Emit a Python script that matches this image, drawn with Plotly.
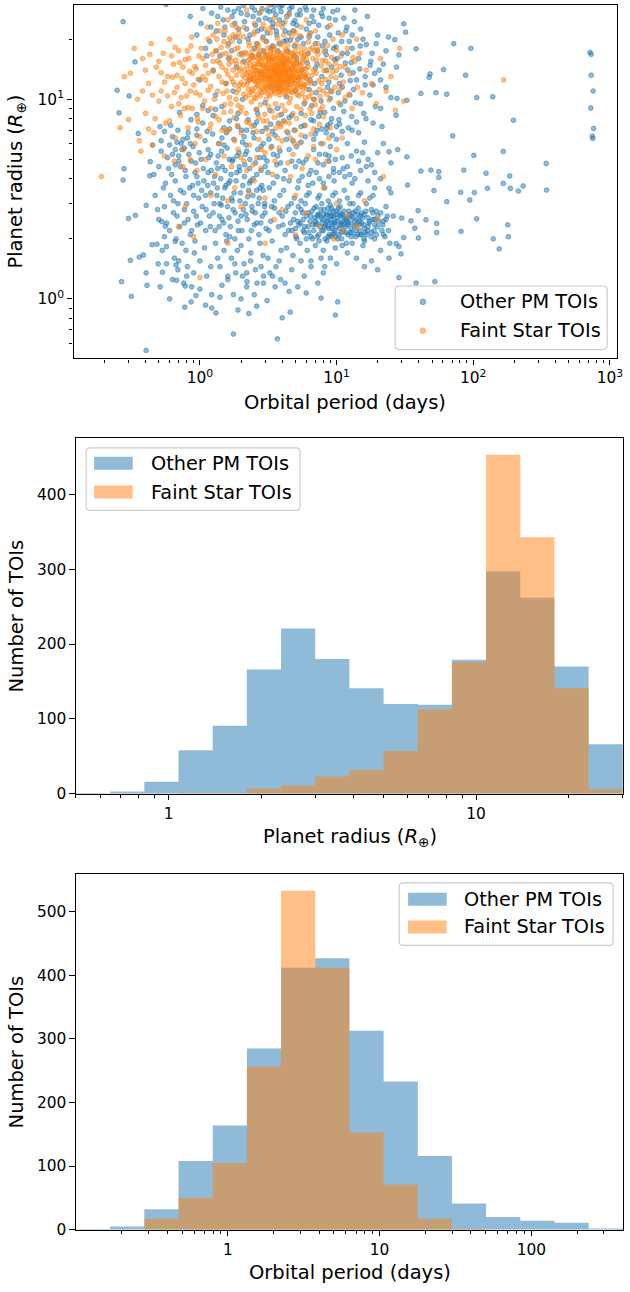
import plotly.graph_objects as go

W, H = 630, 1292

# ---------------- data ----------------
# (orbital period [days], planet radius [R_earth])
other_pm_pts = [
    # sparse outliers
    (0.274, 24.5), (0.565, 29.9), (0.248, 11.1), (0.256, 8.55), (0.303, 10.4), (0.335, 15.4),
    (0.274, 3.94), (0.278, 4.49), (0.30, 2.53), (0.337, 2.62), (0.267, 1.22), (0.315, 1.03),
    (0.31, 1.56), (0.404, 0.552), (0.405, 2.94), (0.43, 4.14), (0.433, 4.87), (0.354, 6.74),
    (0.36, 1.62), (0.386, 1.66), (0.404, 1.35), (0.41, 1.17), (0.447, 1.87), (0.485, 1.88),
    (0.495, 1.5), (0.532, 1.36), (0.512, 1.15), (0.525, 2.44), (0.558, 2.31), (0.569, 1.83),
    (0.66, 1.94), (0.668, 1.48), (0.675, 1.24), (0.78, 1.16), (0.862, 0.966), (0.775, 0.909),
    (0.935, 1.04), (1.22, 0.90), (1.31, 0.85), (1.76, 0.667), (2.28, 0.845), (3.69, 0.631),
    (4.0, 0.804), (4.58, 0.858), (10.2, 0.966), (9.8, 0.83), (7.7, 1.01), (6.0, 1.07),
    (4.5, 1.09), (2.92, 1.2), (2.21, 1.22), (1.45, 1.17), (38.2, 1.2), (52.4, 1.22),
    (28.6, 1.28), (29.6, 1.68), (27.3, 1.89), (39.7, 2.02), (31.0, 2.03), (37.4, 2.26),
    (45.1, 2.49), (54.0, 2.15), (54.0, 2.39), (39.5, 2.77), (64.0, 3.07), (51.6, 3.49),
    (56.0, 4.06), (56.0, 4.34), (49.0, 4.42), (41.4, 4.37), (81.5, 2.18), (81.0, 3.42),
    (85.3, 4.42), (94.4, 3.13), (101, 5.23), (102, 3.41), (106, 2.52), (124, 4.26),
    (127, 3.58), (140, 2.0), (155, 1.78), (166, 3.79), (166, 5.48), (179, 2.35),
    (181, 2.05), (185, 4.13), (187, 3.58), (214, 3.47), (232, 3.68), (342, 4.77),
    (344, 3.51), (197, 7.85), (139, 10.3), (106, 10.2), (88.0, 13.2), (96.0, 18.0),
    (72.0, 19.0), (60.6, 14.1), (70.8, 6.56), (64.0, 10.6), (53.4, 10.8), (47.6, 12.9),
    (48.3, 13.4), (41.4, 10.7), (38.2, 17.9), (32.0, 21.7), (31.0, 23.9), (26.7, 19.9),
    (28.6, 16.7), (27.7, 10.1), (32.7, 9.89), (27.3, 8.32), (716, 17.2), (730, 16.8),
    (730, 13.2), (755, 11.0), (725, 9.05), (760, 7.14), (745, 6.54), (750, 6.37),
    (35.0, 2.46), (30.0, 2.54), (24.2, 3.58), (24.2, 5.46), (32.7, 5.15), (33.1, 3.72),
    (24.2, 1.6), (28.6, 1.83),
    # short periods, small-to-mid radii
    (0.45, 5.9), (0.47, 3.3), (0.5, 4.6), (0.52, 6.2), (0.55, 2.9), (0.56, 3.8), (0.58, 5.1),
    (0.6, 2.2), (0.61, 7.4), (0.62, 4.2), (0.64, 3.1), (0.65, 1.6), (0.66, 5.6), (0.68, 2.6),
    (0.7, 4.9), (0.71, 8.6), (0.72, 3.5), (0.74, 1.9), (0.75, 6.3), (0.77, 2.4), (0.78, 4.4),
    (0.8, 3.0), (0.81, 1.45), (0.83, 5.3), (0.85, 2.1), (0.86, 7.9), (0.88, 3.7), (0.9, 2.75),
    (0.91, 1.7), (0.93, 4.8), (0.95, 6.6), (0.96, 2.35), (0.98, 3.2), (1.0, 1.55), (1.02, 5.0),
    (1.04, 2.9), (1.05, 9.3), (1.07, 3.9), (1.1, 2.2), (1.12, 1.3), (1.13, 6.9), (1.15, 4.3),
    (1.17, 2.6), (1.2, 3.4), (0.53, 1.75), (0.57, 1.5), (0.63, 1.25), (0.69, 1.4), (0.76, 1.2),
    (0.87, 1.15), (0.5, 2.5), (0.55, 2.05), (0.67, 2.0), (0.79, 1.75), (0.92, 1.95), (1.08, 1.8),
    (0.52, 5.5), (0.55, 6.9), (0.6, 5.9), (0.63, 6.5), (0.66, 4.7), (0.7, 5.2), (0.73, 6.0),
    (0.77, 5.7), (0.82, 6.8), (0.69, 7.0),
    (0.46, 4.2), (0.49, 2.8), (0.51, 7.3), (0.54, 3.6), (0.57, 2.4), (0.59, 4.5), (0.61, 3.3),
    (0.63, 5.3), (0.64, 2.7), (0.66, 3.9), (0.68, 6.1), (0.69, 3.0), (0.71, 2.3), (0.72, 4.6),
    (0.74, 5.6), (0.76, 3.4), (0.77, 2.8), (0.79, 4.1), (0.81, 6.4), (0.82, 2.5), (0.84, 3.6),
    (0.86, 4.9), (0.87, 2.2), (0.89, 5.8), (0.9, 3.3), (0.92, 4.3), (0.94, 2.6), (0.95, 7.1),
    (0.97, 3.8), (0.99, 5.4), (1.01, 2.4), (1.03, 3.5), (1.06, 4.5), (1.09, 6.2), (1.11, 2.8),
    (1.14, 3.7), (1.16, 5.1), (1.19, 2.3), (1.21, 4.4), (1.24, 6.7), (1.27, 3.0), (1.29, 2.2),
    (1.32, 4.8), (1.34, 3.6), (1.37, 6.0), (1.39, 2.6), (1.42, 4.0), (1.44, 5.5), (1.47, 3.2),
    (1.49, 2.4), (1.53, 4.4), (1.56, 6.8), (1.59, 2.9), (1.62, 3.8), (1.64, 5.0), (1.67, 2.3),
    (1.69, 4.2), (1.73, 3.1), (1.77, 6.3), (1.81, 2.7), (1.84, 3.9), (1.87, 5.2), (1.91, 2.2),
    (1.94, 4.6), (1.98, 3.4), (2.02, 7.0), (2.08, 2.8), (2.12, 4.1), (2.18, 5.9), (2.22, 2.5),
    (2.27, 3.5), (2.31, 4.5), (2.38, 2.2), (2.44, 3.3), (2.49, 6.4), (2.54, 2.7), (2.6, 4.2),
    (2.67, 3.0), (2.73, 5.1), (2.79, 2.4), (2.84, 3.7), (2.91, 6.0), (2.97, 2.9),
    # 1.2 - 4 days, small radii
    (1.22, 1.05), (1.25, 2.7), (1.28, 4.1), (1.3, 1.9), (1.33, 3.3), (1.36, 5.2), (1.38, 2.3),
    (1.4, 1.45), (1.43, 2.95), (1.46, 4.6), (1.5, 1.75), (1.52, 3.6), (1.55, 2.1), (1.58, 5.7),
    (1.6, 1.25), (1.63, 2.55), (1.66, 3.9), (1.7, 1.6), (1.72, 4.9), (1.75, 2.8), (1.78, 3.4),
    (1.8, 2.0), (1.83, 1.35), (1.86, 4.3), (1.9, 2.45), (1.93, 5.4), (1.96, 3.1), (2.0, 1.85),
    (2.03, 2.2), (2.06, 3.7), (2.1, 1.5), (2.13, 4.7), (2.17, 2.65), (2.2, 1.15), (2.24, 3.25),
    (2.28, 2.0), (2.32, 5.0), (2.36, 1.7), (2.4, 2.9), (2.45, 4.0), (2.5, 2.35), (2.55, 1.4),
    (2.6, 3.5), (2.65, 5.6), (2.7, 2.1), (2.75, 1.9), (2.8, 4.4), (2.86, 2.6), (2.92, 1.3),
    (2.98, 3.0), (3.05, 2.25), (3.1, 4.9), (3.15, 1.6), (3.22, 3.6), (3.3, 2.45), (3.38, 1.95),
    (3.45, 5.3), (3.52, 2.85), (3.6, 1.45), (3.68, 4.1), (3.76, 2.3), (3.85, 3.3), (3.93, 1.75),
    (1.26, 3.8), (1.45, 2.5), (1.65, 2.05), (1.88, 1.75), (2.15, 3.0), (2.42, 2.75), (2.72, 3.2),
    (3.0, 2.7), (3.35, 2.9), (1.35, 1.6), (1.57, 1.95), (1.76, 1.05), (2.05, 1.3), (2.35, 1.55),
    (2.62, 1.2), (2.9, 1.65), (3.25, 1.35), (3.55, 1.15), (3.9, 1.25),
    # sub-Neptune clump
    (4.0, 2.6), (4.1, 3.5), (4.2, 2.1), (4.3, 1.8), (4.4, 2.9), (4.5, 3.9), (4.6, 2.4), (4.7, 2.2),
    (4.8, 1.65), (4.9, 3.2), (5.0, 2.7), (5.1, 2.0), (5.2, 3.6), (5.3, 2.35), (5.4, 1.9), (5.5, 2.8),
    (5.6, 4.1), (5.7, 2.5), (5.8, 2.15), (5.9, 3.0), (6.0, 2.6), (6.1, 1.75), (6.2, 2.3), (6.3, 3.4),
    (6.4, 2.45), (6.5, 2.05), (6.6, 2.75), (6.7, 3.8), (6.8, 2.2), (6.9, 2.55), (7.0, 1.85),
    (7.1, 2.9), (7.2, 2.4), (7.3, 3.2), (7.4, 2.1), (7.5, 2.65), (7.6, 2.3), (7.7, 1.6), (7.8, 3.0),
    (7.9, 2.5), (8.0, 2.2), (8.1, 2.8), (8.2, 3.6), (8.3, 2.35), (8.4, 2.6), (8.5, 1.95), (8.6, 2.45),
    (8.7, 3.1), (8.8, 2.25), (8.9, 2.7), (9.0, 2.5), (9.1, 2.05), (9.2, 2.85), (9.3, 2.35), (9.4, 3.3),
    (9.5, 2.6), (9.6, 2.15), (9.7, 2.45), (9.8, 1.8), (9.9, 2.75), (10.0, 2.3), (10.2, 2.55),
    (10.4, 2.1), (10.6, 2.9), (10.8, 2.4), (11.0, 2.65), (11.2, 2.2), (11.4, 3.5), (11.6, 2.5),
    (11.8, 1.9), (12.0, 2.35), (12.3, 2.75), (12.6, 2.15), (12.9, 2.6), (13.2, 3.0), (13.5, 2.3),
    (13.8, 2.05), (14.1, 2.5), (14.4, 2.85), (14.8, 2.2), (15.2, 2.4), (15.6, 1.85), (16.0, 2.65),
    (16.5, 2.1), (17.0, 2.3), (17.5, 3.2), (18.0, 2.15), (18.5, 2.5), (19.0, 2.0), (19.5, 2.75),
    (20.0, 2.3), (21.0, 1.75), (22.0, 2.45), (23.0, 2.9), (24.0, 2.2), (25.0, 3.4), (26.0, 2.6),
    (11.5, 4.1), (13.0, 3.8), (15.0, 3.4), (17.0, 3.9), (19.0, 3.6), (21.0, 4.0), (9.5, 4.3),
    (7.5, 4.0), (12.0, 1.7), (14.0, 1.6), (16.0, 1.45), (18.0, 1.55), (10.0, 1.5), (8.0, 1.35),
    (6.5, 1.45), (5.5, 1.55), (20.0, 1.4), (22.0, 2.1), (24.5, 1.9), (15.0, 2.1), (16.2, 2.15),
    (9.3, 2.6), (10.5, 2.7), (11.1, 2.45), (8.6, 2.3), (12.2, 2.55), (7.3, 2.65),
    (5.2, 2.45), (5.7, 2.2), (6.2, 2.7), (6.7, 2.35), (7.2, 2.05), (7.7, 2.55), (8.2, 2.3),
    (8.7, 2.05), (9.2, 2.4), (9.7, 2.2), (10.2, 2.0), (10.7, 2.35), (11.2, 2.6), (11.7, 2.15),
    (12.2, 2.4), (12.7, 2.25), (13.2, 2.55), (13.7, 2.75), (14.2, 2.1), (14.7, 2.45), (15.2, 2.7),
    (16.0, 2.25), (17.0, 2.55), (18.0, 2.8), (19.0, 2.35), (20.0, 2.6), (21.5, 2.2), (23.0, 2.5),
    (9.0, 2.95), (10.5, 3.1), (12.0, 3.2), (8.0, 1.75), (11.0, 1.85), (13.0, 1.9), (16.0, 1.95),
    (5.0, 2.25), (6.0, 2.0), (7.0, 2.45), (7.8, 2.2), (8.5, 2.65), (9.4, 2.1), (10.1, 2.65),
    (10.9, 2.15), (11.9, 2.45), (12.8, 2.05), (13.9, 2.35), (14.9, 2.6), (15.9, 2.0), (17.3, 2.4),
    (18.8, 2.2),
    (4.05, 2.35), (4.25, 2.75), (4.45, 2.2), (4.65, 3.0), (4.85, 2.5), (5.05, 2.05), (5.25, 2.9),
    (5.45, 2.4), (5.65, 2.7), (5.85, 2.3), (6.05, 3.3), (6.25, 2.15), (6.45, 2.6), (6.65, 2.0),
    (6.85, 2.85), (7.05, 2.35), (7.25, 2.6), (7.45, 1.95), (7.65, 2.8), (7.85, 2.4), (8.05, 2.65),
    (8.25, 2.0), (8.45, 2.45), (8.65, 2.85), (8.85, 2.1), (9.05, 2.6), (9.25, 2.25), (9.45, 2.75),
    (9.65, 2.4), (9.85, 2.05), (10.1, 2.45), (10.3, 2.85), (10.5, 2.25), (10.7, 2.6), (10.9, 2.0),
    (11.1, 2.35), (11.35, 2.75), (11.6, 2.3), (11.85, 2.55), (12.1, 2.1), (12.4, 2.65), (12.7, 2.4),
    (13.0, 2.15), (13.3, 2.7), (13.6, 2.45), (13.9, 2.2), (14.3, 2.65), (14.7, 2.35), (15.1, 2.1),
    (15.5, 2.55), (15.9, 2.35), (16.4, 2.75), (16.9, 2.2), (17.4, 2.45), (17.9, 2.05), (18.4, 2.7),
    (19.0, 2.5), (19.6, 2.1), (20.3, 2.45), (21.0, 2.7), (21.8, 2.35), (22.6, 2.05), (23.5, 2.6),
    (5.5, 3.1), (7.5, 3.3), (9.8, 3.4), (12.5, 3.0), (14.5, 3.3), (16.5, 3.0), (18.5, 3.3),
    # small planets
    (0.6, 1.0), (0.8, 1.3), (1.0, 1.12), (1.2, 1.45), (1.4, 1.02), (1.6, 1.3), (1.8, 1.5),
    (2.0, 1.0), (2.2, 1.35), (2.5, 1.05), (2.8, 1.45), (3.1, 0.98), (3.4, 1.3), (3.8, 1.55),
    (4.2, 1.2), (4.7, 1.4), (5.2, 1.15), (5.8, 1.3), (6.5, 1.55), (7.3, 1.2), (8.2, 1.45),
    (9.0, 1.6), (1.1, 0.93), (1.9, 0.88), (2.6, 0.92), (0.7, 1.55), (0.9, 1.35),
    # giants
    (1.0, 12.5), (1.1, 18), (1.15, 8.8), (1.2, 23), (1.25, 14), (1.3, 10.5), (1.35, 26),
    (1.4, 16.5), (1.45, 9.2), (1.5, 21), (1.55, 12), (1.6, 28), (1.65, 7.8), (1.7, 17.5),
    (1.75, 11), (1.8, 24), (1.85, 14.5), (1.9, 8.5), (1.95, 19.5), (2.0, 27), (2.05, 10),
    (2.1, 15.5), (2.2, 22.5), (2.3, 12.5), (2.4, 29), (2.5, 18), (2.6, 8.9), (2.7, 25),
    (2.8, 13.5), (2.9, 20.5), (3.0, 9.6), (3.1, 28), (3.2, 16), (3.3, 11.5), (3.4, 23), (3.5, 14),
    (3.6, 26.5), (3.7, 9.0), (3.8, 19), (3.9, 12), (4.0, 29.5), (4.1, 15), (4.2, 22), (4.3, 10.3),
    (4.4, 17.5), (4.5, 27), (4.6, 13), (4.7, 8.3), (4.8, 24), (4.9, 16.5), (5.0, 11), (5.2, 20),
    (5.4, 28), (5.6, 14), (5.8, 9.5), (6.0, 22.5), (6.2, 17), (6.4, 12.5), (6.6, 26), (6.8, 10),
    (7.0, 19), (7.2, 15), (7.4, 23.5), (7.6, 8.6), (7.8, 13), (8.0, 28.5), (8.3, 17.5), (8.6, 11.5),
    (8.9, 21), (9.2, 14.5), (9.5, 9.0), (9.8, 25), (10.1, 16), (10.5, 12), (10.9, 19.5), (11.3, 8.7),
    (11.7, 22), (12.1, 14), (12.5, 10.5), (13.0, 18), (13.5, 24.5), (14.0, 12.5), (14.5, 16),
    (15.0, 9.5), (15.6, 20), (16.2, 13), (16.8, 26), (17.5, 10.5), (18.2, 17), (19.0, 13.5),
    (20.0, 21), (21.0, 9.0), (22.0, 15), (23.0, 11.5), (1.5, 7.2), (2.2, 7.0), (3.3, 7.5),
    (4.4, 6.8), (5.5, 7.3), (7.2, 7.0), (9.0, 7.6), (11.0, 6.9), (2.7, 16.8), (3.4, 18.5),
    (4.2, 13.8), (5.1, 15.8), (6.3, 20.5), (3.8, 11.3), (4.6, 19.8), (6.9, 12.0), (8.4, 14.0),
    (10.3, 10.8), (12.8, 15.3),
    (0.85, 26), (0.95, 21), (1.05, 28.5), (1.18, 19.5), (1.32, 22), (1.48, 25), (1.62, 19),
    (1.78, 27.5), (1.92, 22.5), (2.08, 29.5), (2.25, 20), (2.45, 26), (2.65, 22), (2.85, 28.5),
    (3.05, 19.5), (3.25, 25), (3.45, 27.8), (3.65, 21), (3.85, 29), (4.05, 24), (4.3, 19.8),
    (4.55, 28.5), (4.85, 22), (5.15, 26.5), (5.5, 20.5), (5.9, 29), (6.3, 24), (6.8, 28),
    (7.3, 20.5), (7.9, 26), (8.6, 23), (9.4, 27.5), (10.3, 21.5), (11.3, 25.5), (12.4, 19.5),
    (13.6, 28), (15.0, 22.5), (3.3, 29.8), (2.55, 23.5), (4.95, 24.8),
    (5.3, 12.8), (6.1, 15.2), (7.1, 10.8), (7.9, 18.5), (8.8, 12.2), (9.7, 15.8), (10.8, 13.2),
    (12.0, 17.0), (13.3, 11.2), (14.8, 14.2), (16.5, 18.8), (18.5, 11.8), (20.5, 14.0),
    (6.6, 9.3), (8.2, 8.6), (11.5, 9.8), (9.0, 10.1), (12.9, 8.2), (15.8, 8.5), (17.8, 15.5),
    (1.02, 24), (1.12, 16.5), (1.22, 27), (1.32, 17.5), (1.42, 29), (1.52, 23), (1.62, 16),
    (1.72, 26), (1.82, 20.5), (1.92, 28.5), (2.02, 17), (2.12, 24.5), (2.22, 26.5), (2.32, 21),
    (2.42, 16.5), (2.52, 28), (2.62, 19), (2.72, 27), (2.82, 22.5), (2.92, 17.5), (3.02, 25.5),
    (3.12, 21.5), (3.22, 27.5), (3.32, 18), (3.42, 24), (3.52, 29.5), (3.62, 22), (3.72, 17.5),
    (3.82, 25), (3.92, 27.5), (4.12, 19.5), (4.32, 26), (4.52, 21.5), (4.72, 29), (4.92, 18.5),
    (5.12, 23.5), (5.42, 26.5), (5.72, 19), (6.02, 28), (6.42, 21.5), (6.82, 24.5), (7.22, 17.5),
    (7.72, 27), (8.22, 19.5), (8.82, 25.5), (9.52, 18), (10.2, 28), (11.0, 17), (11.9, 23),
    (13.0, 21),
    (6.3, 11.2), (7.0, 14.3), (7.7, 9.8), (8.4, 16.7), (9.1, 11.0), (9.9, 18.3), (10.7, 9.4),
    (11.6, 15.2), (12.6, 12.4), (13.7, 9.6), (14.9, 18.5), (16.2, 11.8), (17.6, 14.8), (19.2, 9.2),
    (21.0, 12.5), (23.0, 17.5), (25.0, 10.2), (27.5, 14.5), (24.0, 20.5), (19.5, 19.0), (6.8, 7.8),
    (8.6, 7.4), (10.4, 7.9), (12.2, 7.2), (14.0, 7.7), (16.4, 8.0), (18.5, 7.6), (21.5, 7.3),
    (11.0, 11.5), (13.2, 13.6),
    # mid radii
    (2.1, 6.5), (2.5, 7.4), (2.8, 5.8), (3.2, 6.3), (3.7, 5.2), (4.1, 7.8), (4.5, 5.6), (5.0, 4.6),
    (5.5, 6.1), (6.0, 5.0), (6.5, 4.4), (7.0, 6.7), (7.5, 5.3), (8.0, 4.7), (8.5, 7.2), (9.0, 5.8),
    (9.5, 4.5), (10.0, 6.3), (11.0, 5.1), (12.0, 4.6), (13.0, 7.0), (14.0, 5.5), (15.0, 4.4),
    (16.0, 6.1), (17.0, 5.0), (18.0, 4.7), (20.0, 5.4), (22.0, 6.0), (25.0, 4.8), (28.0, 5.6),
    (12.5, 4.2), (14.5, 4.9), (10.5, 4.3), (8.8, 4.9), (19.0, 4.3),
    (0.85, 6.0), (0.95, 4.1), (1.05, 7.6), (1.15, 5.6), (1.25, 8.3), (1.35, 4.5), (1.45, 6.4),
    (1.55, 3.7), (1.65, 7.1), (1.75, 5.0), (1.85, 8.0), (1.95, 4.4), (2.05, 6.1), (2.15, 5.3),
    (2.25, 7.9), (2.35, 3.9), (2.45, 6.8), (2.55, 4.8), (2.65, 8.5), (2.75, 3.6), (2.85, 6.9),
    (2.95, 5.1), (3.05, 7.2), (3.15, 4.3), (3.25, 8.8), (3.35, 5.8), (3.45, 3.8), (3.55, 6.6),
    (3.65, 4.7), (3.75, 7.6), (3.85, 5.5), (3.95, 8.4), (4.1, 4.0), (4.3, 6.3), (4.5, 8.1),
    (4.7, 4.9), (4.9, 7.0), (5.1, 5.8), (5.3, 3.9), (5.5, 8.5), (5.7, 4.8), (5.9, 6.5), (6.2, 3.7),
    (6.5, 7.9), (6.8, 5.6), (7.1, 4.3), (7.4, 8.2), (7.7, 6.0), (8.0, 3.8), (8.4, 6.8), (8.8, 5.2),
    (9.2, 8.0), (9.6, 3.9), (10.0, 7.3), (1.1, 3.3), (1.4, 3.0), (1.7, 3.2), (2.0, 2.6), (2.3, 3.8),
    (2.6, 2.4), (2.9, 3.5), (3.2, 2.2), (3.5, 3.1), (3.8, 2.7),
    (4.2, 4.4), (4.8, 6.2), (5.3, 4.9), (5.8, 7.4), (6.3, 4.2), (6.8, 6.3), (7.3, 4.8), (7.8, 7.1),
    (8.3, 5.3), (8.8, 4.1), (9.3, 6.6), (9.8, 5.0), (10.5, 7.5), (11.2, 4.5), (12.0, 6.0),
    (12.8, 5.2), (13.6, 4.0), (14.5, 6.8), (15.5, 5.4), (16.5, 4.6), (3.0, 4.6), (3.4, 6.9),
    (3.9, 4.8), (2.2, 5.5), (2.6, 7.7), (1.5, 5.9), (1.9, 7.3), (1.2, 5.3), (0.95, 8.4), (1.3, 8.9),
]

faint_pts = [
    # dense hot-Jupiter core
    (2.0, 12.1), (2.05, 15.3), (2.1, 10.6), (2.15, 17.2), (2.2, 13.4), (2.25, 11.2), (2.3, 18.5),
    (2.35, 14.2), (2.4, 12.6), (2.45, 16.1), (2.5, 10.2), (2.55, 13.8), (2.6, 19.0), (2.65, 11.7),
    (2.7, 15.0), (2.75, 12.9), (2.8, 17.6), (2.85, 10.8), (2.9, 14.6), (2.95, 13.1), (3.0, 16.4),
    (3.05, 11.4), (3.1, 12.3), (3.15, 18.1), (3.2, 14.0), (3.25, 10.4), (3.3, 15.7), (3.35, 12.8),
    (3.4, 13.5), (3.45, 17.0), (3.5, 11.0), (3.55, 14.8), (3.6, 12.0), (3.65, 16.7), (3.7, 13.2),
    (3.75, 10.9), (3.8, 15.4), (3.85, 12.5), (3.9, 14.4), (3.95, 18.8), (4.0, 11.6), (4.05, 13.9),
    (4.1, 16.0), (4.15, 12.2), (4.2, 10.5), (4.25, 14.9), (4.3, 17.4), (4.35, 13.0), (4.4, 11.9),
    (4.45, 15.6), (4.5, 12.7), (4.6, 10.1), (4.7, 14.3), (4.8, 16.9), (4.9, 12.4), (5.0, 13.7),
    (5.1, 11.3), (5.2, 15.2), (5.3, 18.3), (5.4, 12.0), (5.5, 14.1), (5.6, 10.7), (5.7, 16.3),
    (5.8, 13.3), (5.9, 11.8), (6.0, 15.8), (6.1, 12.6), (6.2, 14.5), (6.3, 10.3), (6.4, 17.8),
    (2.2, 14.7), (2.5, 12.4), (2.8, 13.6), (3.1, 14.3), (3.3, 13.0), (3.5, 15.9), (3.7, 14.6),
    (3.9, 12.9), (4.1, 13.4), (4.3, 12.1), (4.6, 14.0), (4.9, 15.0), (3.2, 11.8), (3.6, 13.8),
    (4.0, 15.2), (2.9, 12.2), (3.4, 16.2), (3.8, 11.5), (4.4, 14.4), (2.6, 14.0), (3.0, 13.3),
    (3.35, 14.5), (3.65, 12.3), (3.95, 13.6), (4.25, 11.0), (4.55, 16.5), (2.4, 11.3), (2.7, 16.6),
    (3.05, 10.0), (5.2, 12.9), (5.6, 13.0), (6.0, 11.2), (2.3, 13.0), (2.75, 14.9), (3.15, 15.8),
    (3.55, 13.2), (3.85, 16.8), (4.15, 14.1), (4.75, 12.3), (5.05, 16.2), (5.45, 14.8),
    (2.12, 12.8), (2.33, 16.0), (2.52, 14.6), (2.68, 12.0), (2.83, 15.6), (2.97, 11.7),
    (3.12, 13.7), (3.28, 16.9), (3.42, 12.5), (3.58, 11.4), (3.72, 15.1), (3.88, 13.9),
    (4.02, 12.4), (4.18, 15.5), (4.33, 14.0), (4.48, 10.9), (4.63, 13.2), (4.82, 14.7),
    (5.0, 12.0), (5.25, 13.9), (5.5, 11.6), (5.75, 14.3), (6.05, 13.4), (6.3, 12.2),
    (3.22, 12.9), (3.48, 14.2), (3.78, 13.3), (4.08, 14.7), (3.02, 15.0), (2.62, 13.1),
    (2.22, 11.9), (2.27, 13.6), (2.31, 15.1), (2.37, 10.9), (2.43, 12.7), (2.47, 14.4),
    (2.53, 16.3), (2.57, 11.5), (2.63, 12.9), (2.67, 15.4), (2.72, 13.8), (2.78, 11.1),
    (2.82, 12.4), (2.88, 16.0), (2.93, 14.1), (2.99, 12.6), (3.03, 13.9), (3.08, 11.6),
    (3.13, 14.9), (3.18, 13.1), (3.23, 16.4), (3.27, 12.2), (3.32, 14.0), (3.38, 11.3),
    (3.43, 13.4), (3.47, 15.3), (3.53, 12.4), (3.57, 14.4), (3.63, 11.7), (3.68, 13.6),
    (3.73, 16.1), (3.78, 12.6), (3.83, 14.2), (3.87, 11.0), (3.93, 13.0), (3.98, 15.6),
    (4.03, 12.8), (4.12, 14.5), (4.22, 12.5), (4.28, 15.9), (4.38, 13.3), (4.47, 11.5),
    (4.58, 14.8), (4.68, 12.0), (4.78, 15.4), (4.88, 13.6), (4.98, 11.1), (5.08, 14.1),
    (5.18, 12.4), (5.32, 15.0), (5.48, 12.6), (5.62, 15.3), (5.78, 11.9), (5.95, 14.2),
    (2.45, 13.5), (2.85, 13.3), (3.25, 14.7), (3.65, 15.0), (4.05, 13.5), (4.45, 12.9),
    (3.45, 12.1), (3.85, 13.2), (3.05, 12.9), (4.25, 13.7), (2.65, 12.3), (3.15, 12.6),
    (3.55, 13.9), (3.95, 14.8), (4.35, 15.3), (4.75, 13.8),
    (1.92, 11.2), (1.97, 14.3), (2.04, 16.6), (2.08, 11.8), (2.13, 14.0), (2.18, 16.9),
    (2.24, 12.3), (2.29, 10.5), (2.34, 12.8), (2.39, 17.3), (2.44, 11.0), (2.49, 15.0),
    (2.54, 12.2), (2.59, 17.8), (2.64, 10.6), (2.69, 13.9), (2.74, 16.2), (2.79, 12.7),
    (2.84, 11.4), (2.89, 14.9), (2.94, 17.1), (2.99, 10.9), (3.04, 14.4), (3.09, 16.8),
    (3.14, 11.2), (3.19, 15.4), (3.24, 12.0), (3.29, 17.6), (3.34, 10.9), (3.39, 14.8),
    (3.44, 12.9), (3.49, 17.9), (3.54, 10.7), (3.59, 16.1), (3.64, 13.4), (3.69, 11.3),
    (3.74, 17.3), (3.79, 14.0), (3.84, 10.5), (3.89, 15.8), (3.94, 12.1), (3.99, 17.0),
    (4.04, 10.9), (4.09, 12.0), (4.14, 16.6), (4.19, 13.3), (4.24, 17.8), (4.29, 11.4),
    (4.34, 16.1), (4.39, 12.4), (4.44, 17.2), (4.49, 14.1), (4.54, 11.8), (4.59, 15.7),
    (4.64, 12.4), (4.69, 17.0), (4.74, 10.8), (4.79, 13.1), (4.84, 16.4), (4.89, 11.6),
    (4.94, 14.6), (4.99, 17.5), (5.04, 12.9), (5.14, 10.6), (5.22, 16.8), (5.36, 13.5),
    (5.52, 17.2), (5.66, 11.4), (5.82, 16.8), (5.98, 12.8), (2.06, 13.2), (2.26, 15.7),
    (2.46, 13.3), (2.66, 15.9), (2.86, 13.7), (3.06, 16.6), (3.26, 13.8), (3.46, 11.8),
    (3.66, 14.3), (3.86, 11.8), (4.06, 16.3), (4.26, 12.7), (4.46, 13.8), (4.66, 11.0),
    (4.86, 12.8), (5.06, 15.3), (5.26, 11.8), (5.46, 13.3), (5.66, 15.9), (5.86, 13.0),
    (3.16, 10.6), (3.36, 15.9), (3.56, 11.9), (3.76, 12.8), (3.96, 11.2), (4.16, 11.5),
    (2.76, 10.4), (2.56, 10.1), (2.36, 16.6), (2.16, 10.2),
    # just outside the core
    (1.52, 9.4), (1.68, 8.7), (1.84, 10.0), (2.02, 9.1), (2.18, 8.5), (2.38, 9.7), (2.58, 8.9),
    (2.78, 9.4), (2.98, 8.4), (3.18, 9.2), (3.38, 8.7), (3.58, 9.5), (3.78, 8.3), (3.98, 9.3),
    (4.2, 8.8), (4.5, 9.6), (4.8, 8.5), (5.1, 9.2), (5.5, 8.9), (5.9, 9.7), (6.4, 9.0), (7.0, 9.4),
    (7.6, 10.3), (1.55, 17.0), (1.72, 19.6), (1.9, 18.1), (2.08, 20.6), (2.28, 19.3), (2.48, 21.2),
    (2.68, 18.6), (2.88, 20.0), (3.08, 19.5), (3.28, 21.5), (3.48, 18.4), (3.68, 20.3),
    (3.88, 19.2), (4.1, 21.0), (4.4, 18.7), (4.7, 20.5), (5.0, 18.9), (5.4, 20.8), (5.8, 17.9),
    (6.2, 19.4), (6.7, 18.2), (7.3, 16.8), (7.9, 15.6), (8.5, 13.9), (9.2, 16.2), (9.9, 12.8),
    (10.6, 14.6), (6.8, 14.0), (7.4, 12.4), (8.0, 11.0), (6.9, 17.5), (5.3, 10.4), (5.9, 10.2),
    (6.6, 10.8), (1.25, 15.5), (1.45, 12.2), (1.65, 16.3), (1.85, 10.8), (1.95, 13.9),
    (1.75, 14.0), (1.58, 11.0), (1.38, 13.0), (1.15, 11.1), (1.05, 13.0),
    (0.82, 9.1), (0.87, 20.5), (0.92, 14.6), (0.97, 7.7), (1.02, 18.0), (1.08, 9.8), (1.13, 23.0),
    (1.18, 7.1), (1.23, 16.8), (1.28, 10.0), (1.33, 20.0), (1.38, 7.9), (1.43, 18.2), (1.48, 10.7),
    (1.53, 22.0), (1.58, 6.9), (1.63, 15.0), (1.68, 9.5), (1.73, 23.5), (1.78, 8.1), (1.83, 15.7),
    (1.88, 7.4), (1.93, 21.5), (1.98, 8.7), (2.1, 23.0), (2.3, 7.6), (2.5, 21.8), (2.7, 8.1),
    (2.9, 23.8), (3.1, 7.8), (3.3, 22.8), (3.5, 8.1), (3.7, 23.8), (3.9, 7.3), (4.2, 24.5),
    (4.5, 7.6), (4.8, 22.0), (5.1, 8.0), (5.5, 23.0), (5.9, 8.3), (6.3, 21.0), (6.8, 7.1),
    (7.3, 17.8), (7.8, 12.0), (8.3, 15.6), (8.8, 9.9), (9.4, 13.8), (10.0, 17.6), (10.7, 11.3),
    (11.5, 14.5), (12.3, 10.6), (13.2, 16.2), (6.1, 16.8), (6.6, 13.2), (7.1, 15.7), (7.6, 8.9),
    (8.1, 13.9), (8.6, 18.6), (9.2, 10.9), (9.8, 15.1), (1.05, 9.0), (1.25, 21.0), (1.45, 16.8),
    (1.65, 20.3), (1.85, 15.0), (1.15, 13.5), (1.35, 15.6), (1.55, 14.0), (1.75, 12.2),
    (1.95, 11.8),
    # 1 - 2 days
    (1.0, 10.5), (1.05, 16), (1.1, 12.5), (1.15, 20), (1.2, 9.0), (1.25, 13.8), (1.3, 17.5),
    (1.35, 11), (1.4, 22), (1.45, 14.5), (1.5, 8.6), (1.55, 12), (1.6, 18.5), (1.65, 10.2),
    (1.7, 15.5), (1.75, 21), (1.8, 11.8), (1.85, 13.2), (1.9, 9.3), (1.95, 16.8), (1.1, 14.8),
    (1.3, 8.2), (1.5, 19.5), (1.7, 12.7), (1.9, 20.5), (1.2, 11.6), (1.4, 15.2), (1.6, 13.3),
    (1.8, 17.8), (1.35, 24), (1.6, 25), (1.85, 23),
    # 6.5 - 30 days
    (6.5, 12.0), (6.7, 16.0), (6.9, 10.0), (7.1, 13.5), (7.3, 19.0), (7.5, 11.2), (7.7, 14.7),
    (7.9, 9.2), (8.1, 17.3), (8.3, 12.6), (8.5, 10.6), (8.8, 15.0), (9.1, 13.0), (9.4, 20.0),
    (9.7, 11.5), (10.0, 14.0), (10.4, 9.6), (10.8, 16.5), (11.2, 12.2), (11.6, 10.2), (12.0, 18.0),
    (12.5, 13.4), (13.0, 9.0), (13.6, 15.5), (14.2, 11.5), (14.8, 17.0), (15.5, 10.8), (16.5, 14.0),
    (18.0, 12.0), (19.5, 9.5), (21.0, 16.0), (23.0, 11.0), (25.0, 13.0), (27.0, 8.8), (29.0, 18.0),
    (31.0, 9.8), (7.0, 22.0), (9.0, 23.5), (6.6, 8.5), (8.0, 8.2), (11.0, 21.0), (14.0, 20.0),
    (5.0, 21.5), (4.0, 23.0), (3.0, 22.5), (2.5, 24.0), (3.5, 25.5), (2.8, 27.5), (4.5, 26.5),
    (6.0, 25.0), (3.2, 29.5), (2.2, 28.0),
    # ultra-short periods
    (0.3, 7.9), (0.31, 13.5), (0.33, 18.0), (0.35, 10.0), (0.36, 6.2), (0.38, 16.0), (0.4, 8.5),
    (0.42, 12.0), (0.44, 19.0), (0.46, 6.8), (0.48, 14.5), (0.5, 9.8), (0.52, 11.0), (0.54, 17.0),
    (0.56, 7.6), (0.58, 13.0), (0.6, 20.0), (0.62, 9.2), (0.64, 15.0), (0.66, 6.4), (0.68, 11.5),
    (0.7, 17.5), (0.72, 8.3), (0.74, 12.7), (0.76, 5.6), (0.78, 15.8), (0.8, 10.4), (0.82, 7.2),
    (0.84, 13.8), (0.86, 18.5), (0.88, 9.0), (0.9, 11.8), (0.92, 6.0), (0.94, 14.2), (0.96, 8.0),
    (0.98, 16.5), (0.26, 7.2), (0.28, 13.0), (0.37, 5.5), (0.45, 5.9), (0.55, 5.2), (0.65, 4.9),
    (0.75, 4.6), (0.85, 5.0), (0.95, 4.4), (0.42, 7.1), (0.6, 7.8), (0.7, 9.5),
    (0.55, 12.2), (0.62, 16.5), (0.68, 13.2), (0.73, 10.2), (0.78, 12.0), (0.83, 16.0),
    (0.88, 13.5), (0.93, 10.8), (0.97, 12.6), (0.65, 10.8), (0.75, 14.5), (0.85, 11.0),
    (0.5, 15.5), (0.45, 10.5), (0.4, 14.0),
    (0.58, 10.4), (0.63, 12.9), (0.71, 15.3), (0.77, 9.0), (0.81, 17.5), (0.66, 18.2),
    (0.52, 13.6), (0.47, 8.0), (0.43, 16.8), (0.38, 11.0),
    # smaller radii
    (1.0, 6.5), (1.1, 5.0), (1.2, 7.5), (1.3, 4.2), (1.4, 6.0), (1.5, 5.2), (1.6, 7.0), (1.7, 4.6),
    (1.8, 3.6), (1.9, 5.6), (2.0, 6.8), (2.1, 4.9), (2.2, 4.4), (2.3, 5.9), (2.4, 7.3), (2.5, 3.9),
    (2.6, 5.1), (2.7, 6.3), (2.8, 4.5), (2.9, 7.8), (3.0, 5.4), (3.2, 6.6), (3.4, 4.2), (3.6, 7.2),
    (3.8, 5.7), (4.0, 6.2), (4.2, 7.7), (4.4, 4.8), (4.6, 6.4), (4.8, 5.3), (5.0, 7.0), (5.3, 6.0),
    (5.6, 4.5), (5.9, 7.4), (6.2, 5.2), (6.5, 6.7), (7.0, 5.0), (7.5, 7.5), (8.0, 6.0), (8.5, 4.9),
    (9.0, 7.2), (10.0, 5.6), (11.0, 6.4), (1.2, 3.3), (1.6, 3.1), (2.3, 3.4), (3.0, 3.2), (4.0, 2.8),
    (5.0, 3.3), (6.0, 2.7), (8.0, 3.6), (10.0, 3.0), (12.0, 2.6), (3.5, 2.5), (2.0, 2.9), (14.0, 2.3),
    (16.0, 3.1), (20.0, 2.5),
    (1.8, 6.2), (2.2, 7.7), (2.6, 6.9), (3.1, 7.1), (3.3, 5.7), (3.7, 6.4), (4.3, 6.9), (4.9, 6.0),
    (2.0, 5.1), (2.8, 5.6), (3.9, 7.5), (5.5, 6.6), (1.45, 7.0), (2.45, 4.7), (3.55, 4.9),
    (4.6, 4.1), (6.8, 5.8), (8.8, 6.4),
    # outliers
    (0.19, 4.1), (167, 12.5), (22, 4.1), (1.0, 1.28), (0.9, 2.05), (0.78, 2.9), (3.0, 1.9),
    (5.0, 2.1), (9.5, 2.0), (11, 2.2), (7.5, 2.3), (1.6, 1.9), (0.7, 2.3),
]

other_period = [p for p, r in other_pm_pts]
other_radius = [r for p, r in other_pm_pts]
faint_period = [p for p, r in faint_pts]
faint_radius = [r for p, r in faint_pts]

# histogram bins and counts
radius_edges = [0.5, 0.6458, 0.8341, 1.0773, 1.3915, 1.7972, 2.3213, 2.9982, 3.8725,
                5.0018, 6.4603, 8.3442, 10.777, 13.920, 17.979, 23.222, 30.0]
radius_counts_other = [1, 3, 16, 58, 91, 166, 221, 180, 141, 120, 119, 179, 297, 262, 170, 66]
radius_counts_faint = [0, 0, 0, 1, 1, 7, 11, 23, 32, 57, 113, 176, 453, 343, 141, 6]

period_edges = [0.1, 0.1679, 0.2820, 0.4737, 0.7955, 1.336, 2.2437, 3.768, 6.328,
                10.627, 17.85, 29.97, 50.33, 84.53, 141.96, 238.4, 400.0]
period_counts_other = [1, 5, 32, 108, 164, 285, 412, 427, 313, 233, 116, 41, 20, 14, 11, 2]
period_counts_faint = [0, 0, 17, 50, 105, 257, 533, 412, 153, 71, 17, 1, 0, 0, 0, 0]

series_names = ["Other PM TOIs", "Faint Star TOIs"]

# ---------------- styling ----------------
FONT = "DejaVu Sans"
BLUE = "rgba(31,119,180,0.5)"
ORANGE = "rgba(255,127,14,0.5)"
BLUE_H = "rgba(31,119,180,0.5)"
ORANGE_H = "rgba(255,127,14,0.5)"
TICK_FS = 15.4
LABEL_FS = 19.5
LEG_FS = 19.3


def xp(px):
    return px / W


def yp(py):
    return 1 - py / H


fig = go.Figure()

# scatter
for per, rad, col, nm in [(other_period, other_radius, BLUE, series_names[0]),
                          (faint_period, faint_radius, ORANGE, series_names[1])]:
    fig.add_trace(go.Scatter(x=per, y=rad, mode="markers", name=nm, showlegend=False,
                             marker=dict(size=4.8, color=col, line=dict(color=col, width=1)),
                             xaxis="x", yaxis="y"))


def step(edges, counts):
    return list(edges), list(counts) + [counts[-1]]


for edges, co, cf, xa, ya in [(radius_edges, radius_counts_other, radius_counts_faint, "x2", "y2"),
                              (period_edges, period_counts_other, period_counts_faint, "x3", "y3")]:
    for counts, col in [(co, BLUE_H), (cf, ORANGE_H)]:
        sx, sy = step(edges, counts)
        fig.add_trace(go.Scatter(x=sx, y=sy, mode="lines", line=dict(width=0, shape="hv"),
                                 fill="tozeroy", fillcolor=col, showlegend=False,
                                 hoverinfo="skip", xaxis=xa, yaxis=ya))

axis_common = dict(showline=True, linecolor="black", linewidth=1.2, mirror=True,
                   ticks="outside", ticklen=5.4, tickwidth=1.2, tickcolor="black",
                   showgrid=False, zeroline=False,
                   tickfont=dict(family=FONT, size=TICK_FS, color="black"))


def minor(vals):
    return dict(tickmode="array", tickvals=vals, ticks="outside", ticklen=3.1,
                tickwidth=0.9, tickcolor="black", showgrid=False)


sup = lambda e: "10<sup>%d</sup>" % e

fig.update_layout(
    xaxis=dict(axis_common, type="log", range=[-0.9245, 3.055], domain=[xp(74.3), xp(623.3)],
               anchor="y", tickmode="array", tickvals=[1, 10, 100, 1000],
               ticktext=[sup(0), sup(1), sup(2), sup(3)],
               minor=minor([0.2, 0.3, 0.4, 0.5, 0.6, 0.7, 0.8, 0.9, 2, 3, 4, 5, 6, 7, 8, 9,
                            20, 30, 40, 50, 60, 70, 80, 90, 200, 300, 400, 500, 600, 700, 800, 900])),
    yaxis=dict(axis_common, type="log", range=[-0.2984, 1.4742], domain=[yp(361), yp(4.7)],
               anchor="x", tickmode="array", tickvals=[1, 10], ticktext=[sup(0), sup(1)],
               minor=minor([0.6, 0.7, 0.8, 0.9, 2, 3, 4, 5, 6, 7, 8, 9, 20, 30])),
    xaxis2=dict(axis_common, type="log", range=[-0.30103, 1.47712], domain=[xp(76.7), xp(628.8)],
                anchor="y2", tickmode="array", tickvals=[1, 10], ticktext=["1", "10"],
                minor=minor([0.5, 0.6, 0.7, 0.8, 0.9, 2, 3, 4, 5, 6, 7, 8, 9, 20, 30])),
    yaxis2=dict(axis_common, range=[0, 475.6], domain=[yp(799.3), yp(441)], anchor="x2",
                tickmode="array", tickvals=[0, 100, 200, 300, 400]),
    xaxis3=dict(axis_common, type="log", range=[-1, 2.60206], domain=[xp(76.7), xp(628.8)],
                anchor="y3", tickmode="array", tickvals=[1, 10, 100], ticktext=["1", "10", "100"],
                minor=minor([0.2, 0.3, 0.4, 0.5, 0.6, 0.7, 0.8, 0.9, 2, 3, 4, 5, 6, 7, 8, 9,
                             20, 30, 40, 50, 60, 70, 80, 90, 200, 300])),
    yaxis3=dict(axis_common, range=[0, 559.7], domain=[yp(1238.3), yp(880)], anchor="x3",
                tickmode="array", tickvals=[0, 100, 200, 300, 400, 500]),
)

annotations = []
shapes = []


def label(text, px, py, angle=0):
    annotations.append(dict(text=text, x=xp(px), y=yp(py), xref="paper", yref="paper",
                            xanchor="center", yanchor="middle", showarrow=False,
                            textangle=angle, font=dict(family=FONT, size=LABEL_FS, color="black")))


rad_label = "Planet radius (<i>R</i><sub>⊕</sub>)"
label("Orbital period (days)", 348, 405)
label(rad_label, 17, 183, -90)
label(rad_label, 353, 843)
label("Number of TOIs", 17, 620, -90)
label("Orbital period (days)", 353, 1281)
label("Number of TOIs", 17, 1059, -90)


def rounded_box(x0, y0, x1, y1, r=4):
    rx, ry = r / W, r / H
    X0, X1 = xp(x0), xp(x1)
    Y0, Y1 = yp(y1), yp(y0)  # bottom, top in paper
    path = (f"M {X0+rx},{Y0} L {X1-rx},{Y0} Q {X1},{Y0} {X1},{Y0+ry} "
            f"L {X1},{Y1-ry} Q {X1},{Y1} {X1-rx},{Y1} L {X0+rx},{Y1} "
            f"Q {X0},{Y1} {X0},{Y1-ry} L {X0},{Y0+ry} Q {X0},{Y0} {X0+rx},{Y0} Z")
    shapes.append(dict(type="path", path=path, xref="paper", yref="paper",
                       fillcolor="rgba(255,255,255,0.8)",
                       line=dict(color="rgba(204,204,204,1)", width=1.2), layer="above"))


def leg_text(text, px, py):
    annotations.append(dict(text=text, x=xp(px), y=yp(py), xref="paper", yref="paper",
                            xanchor="left", yanchor="middle", showarrow=False,
                            font=dict(family=FONT, size=LEG_FS, color="black")))


# scatter legend
rounded_box(399, 288, 613, 352)
for (cy, col, nm) in [(304, BLUE, series_names[0]), (333, ORANGE, series_names[1])]:
    rr = 2.8
    shapes.append(dict(type="circle", xref="paper", yref="paper",
                       x0=xp(427 - rr), x1=xp(427 + rr), y0=yp(cy + rr), y1=yp(cy - rr),
                       fillcolor=col, line=dict(color=col, width=1), layer="above"))
    leg_text(nm, 462, cy)

# histogram legends
for (bx0, by0, bx1, by1, px0, px1, ys, tx) in [
        (87, 451, 303, 514, 95, 134, [(460, 473), (489, 502)], 150),
        (403, 889, 619, 952, 412, 451, [(899, 912), (927, 940)], 466)]:
    rounded_box(bx0, by0, bx1, by1)
    for (yy, col, nm) in zip(ys, [BLUE_H, ORANGE_H], series_names):
        shapes.append(dict(type="rect", xref="paper", yref="paper",
                           x0=xp(px0), x1=xp(px1), y0=yp(yy[1]), y1=yp(yy[0]),
                           fillcolor=col, line=dict(width=0), layer="above"))
        leg_text(nm, tx, (yy[0] + yy[1]) / 2)

fig.update_layout(width=W, height=H, margin=dict(l=0, r=0, t=0, b=0),
                  paper_bgcolor="white", plot_bgcolor="white",
                  annotations=annotations, shapes=shapes, showlegend=False,
                  font=dict(family=FONT, color="black"))

page_fix = (
    "var gd=document.getElementById('{plot_id}');"
    "var de=document.documentElement, b=document.body;"
    "de.style.margin='0';de.style.padding='0';de.style.overflow='hidden';"
    "de.style.width='630px';de.style.height='1292px';"
    "b.style.margin='0';b.style.padding='0';b.style.overflow='hidden';"
    "b.style.width='630px';b.style.height='1292px';"
    "if(gd&&gd.parentElement){gd.parentElement.style.lineHeight='0';"
    "gd.parentElement.style.height='1292px';gd.parentElement.style.overflow='hidden';}"
)

fig.write_html("out.html", config={"displayModeBar": False}, post_script=page_fix)
